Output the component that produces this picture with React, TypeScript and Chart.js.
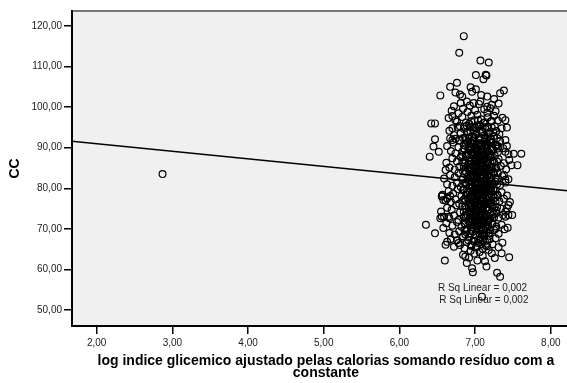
import { useEffect, useRef } from 'react';
import { Chart, registerables } from 'chart.js';
Chart.register(...registerables);

const xTicks = [2, 3, 4, 5, 6, 7, 8];
const yTicks = [50, 60, 70, 80, 90, 100, 110, 120];
const xRange = [1.674, 8.383];
const yRange = [46.06, 123.7];
const fitX = [1.5, 8.5];
const fitY = [91.9, 78.9];
const rSqLabels = ['R Sq Linear = 0,002', 'R Sq Linear = 0,002'];
const rSqX = [7.098, 7.115];
const rSqY = [55.35, 52.47];
const xTitle = ['log indice glicemico ajustado pelas calorias somando resíduo com a', 'constante'];
const yTitle = 'CC';

const outliers: number[][] = [
  [2.87, 83.5],
  [6.85, 117.5], [6.79, 113.4], [7.07, 111.5], [7.18, 111.0], [7.01, 107.9], [7.11, 106.9], [7.14, 108.0], [7.15, 107.8],
  [6.76, 106.0], [6.67, 105.0], [6.54, 102.9], [6.74, 103.6], [6.80, 103.1], [6.83, 102.6], [6.94, 104.9], [7.01, 104.4],
  [6.96, 103.8], [7.08, 103.0], [7.16, 102.6], [7.25, 102.0], [7.33, 103.4], [7.38, 104.1],
  [6.81, 101.0], [6.89, 101.4], [6.98, 101.0], [7.07, 101.4], [7.16, 100.1], [7.20, 99.7],
  [6.69, 99.1], [6.65, 97.3], [6.74, 96.8], [6.70, 94.8], [6.47, 96.0], [6.42, 96.0], [6.47, 92.1], [6.45, 90.3], [6.52, 89.0], [6.40, 87.8],
  [7.40, 96.8], [7.42, 95.0], [7.40, 91.9], [7.51, 88.5], [7.61, 88.5], [7.48, 85.7], [7.56, 85.7], [7.31, 90.3], [7.40, 89.0],
  [6.61, 84.5], [6.70, 91.9], [6.67, 92.3], [6.56, 78.1], [6.67, 78.1],
  [6.56, 78.0], [6.58, 77.1], [6.63, 77.5], [6.56, 73.0], [6.65, 73.0], [6.54, 72.6],
  [7.38, 83.3], [7.40, 82.1], [7.42, 75.1], [7.44, 73.4], [7.49, 73.4], [7.40, 73.0],
  [6.35, 71.0], [6.47, 68.9], [6.61, 66.1], [6.60, 62.2], [6.78, 66.5], [6.87, 63.2], [6.89, 61.6], [6.96, 60.3], [6.97, 59.3],
  [7.03, 62.2], [7.13, 62.0], [7.15, 60.7], [7.29, 59.2], [7.33, 58.2], [7.22, 64.0], [7.35, 64.0], [7.45, 63.0], [7.09, 53.3],
];

const upperCloud: number[][] = [
  [6.72, 100.2], [6.84, 99.6], [6.93, 100.4], [7.00, 99.2], [7.05, 100.8], [7.12, 99.5], [7.22, 100.6], [7.27, 99.0], [6.90, 98.8], [7.16, 98.6], [7.31, 100.9], [6.78, 98.5],
  [6.70, 97.8], [6.76, 96.4], [6.83, 97.6], [6.88, 96.2], [6.95, 97.9], [6.99, 96.8], [7.03, 98.1], [7.08, 97.0], [7.11, 96.1], [7.17, 97.5], [7.21, 96.5], [7.25, 97.9], [7.30, 96.7], [7.36, 97.4], [6.92, 95.9], [7.05, 95.6], [6.80, 95.3],
  [6.66, 94.2], [6.72, 93.1], [6.77, 95.0], [6.81, 93.6], [6.85, 94.7], [6.87, 92.5], [6.90, 93.9], [6.93, 95.1], [6.96, 92.8], [6.98, 94.3], [7.01, 93.2], [7.03, 95.4], [7.06, 92.4], [7.08, 94.0],
  [7.10, 95.2], [7.12, 93.0], [7.14, 94.6], [7.17, 92.6], [7.19, 93.8], [7.22, 95.0], [7.25, 92.9], [7.28, 94.1], [7.32, 93.3], [7.35, 94.8], [6.74, 92.2], [7.00, 94.9], [7.15, 92.1], [6.89, 95.4],
  [6.63, 90.4], [6.68, 89.2], [6.71, 91.3], [6.74, 88.6], [6.78, 90.1], [6.80, 91.8], [6.83, 89.0], [6.85, 90.7], [6.88, 88.3], [6.90, 91.4], [6.92, 89.6], [6.95, 90.9], [6.97, 88.8], [6.99, 91.7],
  [7.01, 90.0], [7.03, 88.5], [7.05, 91.1], [7.07, 89.4], [7.09, 90.6], [7.11, 88.2], [7.13, 91.5], [7.15, 89.8], [7.17, 90.8], [7.19, 88.7], [7.21, 91.2], [7.24, 89.5], [7.27, 90.5], [7.30, 88.9],
  [7.33, 91.6], [7.37, 89.9], [7.42, 90.4], [7.44, 88.4], [6.87, 91.9], [7.02, 89.2], [7.12, 90.3], [6.96, 89.9], [7.06, 88.1],
];

const coreCloud: number[][] = [
  [6.62, 86.3], [6.66, 85.1], [6.70, 87.4], [6.73, 84.6], [6.76, 86.6], [6.79, 85.3], [6.81, 87.7], [6.84, 84.2], [6.86, 86.1], [6.88, 87.9], [6.90, 85.0], [6.92, 86.9], [6.94, 84.5], [6.96, 87.3],
  [6.98, 85.6], [7.00, 86.7], [7.02, 84.3], [7.04, 87.6], [7.06, 85.4], [7.08, 86.4], [7.10, 84.8], [7.12, 87.1], [7.14, 85.7], [7.16, 86.8], [7.18, 84.4], [7.20, 87.5], [7.23, 85.2], [7.25, 86.5],
  [7.28, 84.9], [7.31, 87.2], [7.34, 85.5], [7.38, 86.2], [7.41, 84.7], [7.45, 87.0], [6.91, 86.0], [7.03, 85.9], [7.09, 87.8], [6.99, 84.1], [7.15, 84.0], [6.83, 86.4],
  [6.59, 82.4], [6.63, 81.0], [6.67, 83.3], [6.70, 80.6], [6.73, 82.7], [6.76, 81.3], [6.78, 83.8], [6.81, 80.3], [6.83, 82.1], [6.86, 83.5], [6.88, 80.9], [6.90, 82.9], [6.92, 81.5], [6.94, 83.2],
  [6.96, 80.4], [6.98, 82.3], [7.00, 81.1], [7.02, 83.7], [7.04, 80.7], [7.06, 82.6], [7.08, 81.7], [7.10, 83.4], [7.12, 80.2], [7.14, 82.0], [7.16, 83.1], [7.18, 81.2], [7.20, 82.8], [7.22, 80.5],
  [7.25, 83.6], [7.27, 81.6], [7.30, 82.5], [7.33, 80.8], [7.36, 83.0], [7.40, 81.4], [7.44, 82.2], [6.95, 81.9], [7.05, 83.9], [7.11, 81.8], [6.87, 81.4], [7.01, 80.1], [7.19, 80.0], [6.99, 83.0], [7.07, 80.0],
  [6.57, 78.4], [6.61, 77.0], [6.65, 79.3], [6.68, 76.6], [6.71, 78.7], [6.74, 77.3], [6.77, 79.8], [6.79, 76.2], [6.82, 78.1], [6.84, 79.5], [6.87, 76.9], [6.89, 78.9], [6.91, 77.5], [6.93, 79.2],
  [6.95, 76.4], [6.97, 78.3], [6.99, 77.1], [7.01, 79.7], [7.03, 76.7], [7.05, 78.6], [7.07, 77.7], [7.09, 79.4], [7.11, 76.3], [7.13, 78.0], [7.15, 79.1], [7.17, 77.2], [7.19, 78.8], [7.21, 76.5],
  [7.24, 79.6], [7.26, 77.6], [7.29, 78.5], [7.32, 76.8], [7.35, 79.0], [7.38, 77.4], [7.42, 78.2], [7.46, 76.6], [6.94, 77.9], [7.04, 79.9], [7.10, 77.8], [6.86, 77.4], [7.00, 76.0], [7.18, 76.1],
  [6.98, 79.0], [7.06, 76.1], [7.12, 79.6],
  [6.55, 74.3], [6.59, 73.0], [6.63, 75.2], [6.66, 72.6], [6.69, 74.7], [6.72, 73.3], [6.75, 75.8], [6.78, 72.2], [6.80, 74.1], [6.83, 75.5], [6.85, 72.9], [6.88, 74.9], [6.90, 73.5], [6.92, 75.3],
  [6.94, 72.4], [6.96, 74.3], [6.98, 73.1], [7.00, 75.7], [7.02, 72.7], [7.04, 74.6], [7.06, 73.7], [7.08, 75.4], [7.10, 72.3], [7.12, 74.0], [7.14, 75.1], [7.16, 73.2], [7.18, 74.8], [7.20, 72.5],
  [7.23, 75.6], [7.25, 73.6], [7.28, 74.5], [7.31, 72.8], [7.34, 75.0], [7.37, 73.4], [7.40, 74.2], [7.44, 75.9], [6.93, 73.9], [7.03, 75.9], [7.09, 73.8], [6.87, 73.4], [6.99, 72.0], [7.17, 72.1],
  [7.05, 72.0], [7.13, 76.0],
];

const lowerCloud: number[][] = [
  [6.58, 70.2], [6.62, 71.4], [6.66, 69.0], [6.70, 70.8], [6.73, 68.6], [6.76, 71.7], [6.79, 69.4], [6.82, 70.5], [6.84, 68.2], [6.87, 71.1], [6.89, 69.8], [6.91, 71.9], [6.93, 68.9], [6.95, 70.4],
  [6.97, 69.3], [6.99, 71.5], [7.01, 68.4], [7.03, 70.7], [7.05, 69.6], [7.07, 71.3], [7.09, 68.7], [7.11, 70.1], [7.13, 71.8], [7.15, 69.1], [7.17, 70.9], [7.19, 68.3], [7.22, 71.2], [7.25, 69.7],
  [7.28, 70.6], [7.31, 68.8], [7.35, 71.0], [7.39, 69.9], [7.43, 70.3], [6.96, 71.0], [7.08, 70.0], [7.02, 71.9], [6.86, 69.7], [7.12, 68.1],
  [6.63, 66.8], [6.68, 67.5], [6.72, 65.6], [6.76, 67.2], [6.80, 66.0], [6.83, 67.8], [6.86, 65.2], [6.89, 66.7], [6.92, 67.9], [6.95, 65.8], [6.98, 67.0], [7.01, 65.4], [7.04, 66.5], [7.07, 67.6],
  [7.10, 65.1], [7.13, 66.9], [7.16, 65.7], [7.19, 67.4], [7.23, 66.2], [7.27, 67.7], [7.31, 65.5], [7.36, 66.6], [6.94, 64.6], [7.06, 64.3], [7.18, 64.8],
  [6.84, 63.6], [6.99, 63.9], [7.10, 63.4], [7.26, 62.8], [6.92, 62.9],
];

const denseCore: number[][] = [
  [6.95, 96.5], [7.04, 96.8], [7.13, 96.3], [7.22, 96.6],
  [6.86, 95.2], [6.97, 95.0], [7.07, 95.4], [7.16, 95.1], [7.26, 95.3],
  [6.89, 93.8], [6.94, 94.0], [7.02, 93.6], [7.10, 93.9], [7.18, 93.5], [7.24, 93.8],
  [6.84, 92.4], [6.92, 92.2], [6.99, 92.6], [7.05, 92.3], [7.13, 92.5], [7.21, 92.1], [7.29, 92.4],
  [6.88, 91.0], [6.95, 91.2], [7.02, 90.8], [7.08, 91.1], [7.15, 90.9], [7.22, 91.3], [7.28, 90.7],
  [6.86, 89.6], [6.93, 89.4], [6.99, 89.8], [7.04, 89.5], [7.10, 89.7], [7.16, 89.3], [7.22, 89.6], [7.30, 89.8],
  [6.83, 88.2], [6.91, 88.4], [6.97, 88.0], [7.02, 88.3], [7.08, 88.1], [7.14, 88.5], [7.20, 88.2], [7.26, 88.0],
  [6.87, 86.8], [6.94, 86.6], [7.00, 87.0], [7.05, 86.7], [7.11, 86.9], [7.17, 86.5], [7.23, 86.8], [7.29, 86.6],
  [6.85, 85.4], [6.92, 85.2], [6.98, 85.6], [7.03, 85.3], [7.09, 85.5], [7.15, 85.1], [7.21, 85.4], [7.27, 85.2],
  [6.88, 84.0], [6.95, 84.2], [7.01, 83.8], [7.06, 84.1], [7.12, 83.9], [7.18, 84.3], [7.24, 84.0], [7.30, 83.7],
  [6.84, 82.6], [6.91, 82.4], [6.97, 82.8], [7.03, 82.5], [7.09, 82.7], [7.15, 82.3], [7.21, 82.6], [7.27, 82.4],
  [6.87, 81.2], [6.94, 81.0], [7.00, 81.4], [7.05, 81.1], [7.11, 81.3], [7.17, 80.9], [7.23, 81.2], [7.29, 81.0],
  [6.85, 79.8], [6.92, 80.0], [6.98, 79.6], [7.03, 79.9], [7.09, 79.7], [7.15, 80.1], [7.21, 79.8], [7.26, 79.5],
  [6.88, 78.4], [6.95, 78.2], [7.01, 78.6], [7.06, 78.3], [7.12, 78.5], [7.18, 78.1], [7.24, 78.4], [7.30, 78.2],
  [6.84, 77.0], [6.91, 77.2], [6.97, 76.8], [7.03, 77.1], [7.09, 76.9], [7.15, 77.3], [7.21, 77.0], [7.27, 76.7],
  [6.87, 75.6], [6.94, 75.4], [7.00, 75.8], [7.05, 75.5], [7.11, 75.7], [7.17, 75.3], [7.23, 75.6], [7.29, 75.4],
  [6.85, 74.2], [6.92, 74.4], [6.98, 74.0], [7.04, 74.3], [7.10, 74.1], [7.16, 74.5], [7.22, 74.2], [7.28, 73.9],
  [6.88, 72.8], [6.95, 72.6], [7.01, 73.0], [7.07, 72.7], [7.13, 72.9], [7.19, 72.5], [7.25, 72.8],
  [6.86, 71.4], [6.93, 71.6], [6.99, 71.2], [7.05, 71.5], [7.11, 71.3], [7.17, 71.7], [7.23, 71.4],
  [6.89, 70.0], [6.96, 69.8], [7.02, 70.2], [7.08, 69.9], [7.14, 70.1], [7.20, 69.7], [7.27, 70.0],
  [6.87, 68.6], [6.94, 68.8], [7.00, 68.4], [7.06, 68.7], [7.12, 68.5], [7.18, 68.9],
  [6.91, 67.2], [6.98, 67.0], [7.04, 67.4], [7.10, 67.1], [7.16, 67.3],
  [6.95, 66.0], [7.02, 65.8], [7.08, 66.2], [7.14, 65.9],
  [6.97, 91.7], [7.05, 91.9], [7.12, 91.6], [7.19, 91.8],
  [6.93, 90.3], [7.00, 90.5], [7.07, 90.2], [7.14, 90.4], [7.21, 90.1],
  [6.96, 88.9], [7.03, 89.1], [7.10, 88.8], [7.17, 89.0],
  [6.93, 87.5], [7.00, 87.3], [7.07, 87.6], [7.14, 87.4], [7.21, 87.7],
  [6.96, 86.1], [7.03, 86.3], [7.10, 86.0], [7.17, 86.2],
  [6.93, 84.7], [7.00, 84.9], [7.07, 84.6], [7.14, 84.8], [7.21, 84.5],
  [6.96, 83.3], [7.03, 83.1], [7.10, 83.4], [7.17, 83.2],
  [6.93, 81.9], [7.00, 82.1], [7.07, 81.8], [7.14, 82.0], [7.21, 81.7],
  [6.96, 80.5], [7.03, 80.7], [7.10, 80.4], [7.17, 80.6],
  [6.93, 79.1], [7.00, 78.9], [7.07, 79.2], [7.14, 79.0], [7.21, 79.3],
  [6.96, 77.7], [7.03, 77.9], [7.10, 77.6], [7.17, 77.8],
  [6.93, 76.3], [7.00, 76.5], [7.07, 76.2], [7.14, 76.4], [7.21, 76.1],
  [6.96, 74.9], [7.03, 74.7], [7.10, 75.0], [7.17, 74.8],
  [6.93, 73.5], [7.00, 73.7], [7.07, 73.4], [7.14, 73.6],
  [6.97, 72.1], [7.04, 72.3], [7.11, 72.0], [7.18, 72.2],
  [7.00, 70.7], [7.07, 70.9], [7.14, 70.6],
];

const FONT = "'Liberation Sans', Arial, Helvetica, sans-serif";
const toXY = (arr: number[][]) => arr.map(([x, y]) => ({ x, y }));

export default function App() {
  const ref = useRef<HTMLCanvasElement | null>(null);
  useEffect(() => {
    const canvas = ref.current;
    if (!canvas) return;
    const decor = {
      id: 'decor',
      beforeDraw(chart: any) {
        const { ctx, chartArea: a } = chart;
        ctx.save();
        ctx.fillStyle = '#f0f0f0';
        ctx.fillRect(a.left, a.top, a.right - a.left, a.bottom - a.top);
        ctx.strokeStyle = '#777777';
        ctx.lineWidth = 2;
        ctx.beginPath();
        ctx.moveTo(a.left, a.top);
        ctx.lineTo(a.right, a.top);
        ctx.stroke();
        ctx.restore();
      },
      afterDraw(chart: any) {
        const { ctx, chartArea: a, scales } = chart;
        ctx.save();
        ctx.fillStyle = '#222';
        ctx.font = `10px ${FONT}`;
        ctx.textAlign = 'center';
        ctx.textBaseline = 'middle';
        rSqLabels.forEach((t, i) => {
          ctx.fillText(t, scales.x.getPixelForValue(rSqX[i]), scales.y.getPixelForValue(rSqY[i]));
        });
        ctx.fillStyle = '#000';
        ctx.font = `bold 14px ${FONT}`;
        const cx = (a.left + a.right) / 2;
        ctx.fillText(xTitle[0], cx, a.bottom + 35);
        ctx.fillText(xTitle[1], cx, a.bottom + 47);
        ctx.translate(15.5, (a.top + a.bottom) / 2);
        ctx.rotate(-Math.PI / 2);
        ctx.fillText(yTitle, 0, 0);
        ctx.restore();
      },
    };
    const pointDs = (data: number[][]) => ({
      type: 'scatter' as const,
      data: toXY(data),
      pointStyle: 'circle',
      pointRadius: 3.4,
      pointBorderWidth: 1.2,
      pointBorderColor: '#000',
      pointBackgroundColor: 'rgba(0,0,0,0)',
      showLine: false,
    });
    const chart = new Chart(canvas, {
      type: 'scatter',
      data: {
        datasets: [
          pointDs(outliers),
          pointDs(upperCloud),
          pointDs(coreCloud),
          pointDs(lowerCloud),
          pointDs(denseCore),
          {
            type: 'line' as const,
            data: fitX.map((x, i) => ({ x, y: fitY[i] })),
            borderColor: '#000',
            borderWidth: 1.5,
            pointRadius: 0,
            fill: false,
          } as any,
        ],
      },
      options: {
        animation: false,
        responsive: false,
        devicePixelRatio: 1,
        events: [],
        layout: { padding: { top: 11, left: 0, right: 0, bottom: 0 } },
        plugins: { legend: { display: false }, tooltip: { enabled: false } },
        scales: {
          x: {
            type: 'linear',
            min: xRange[0],
            max: xRange[1],
            afterBuildTicks: (s: any) => { s.ticks = xTicks.map((v) => ({ value: v })); },
            afterFit: (s: any) => { s.height = 57; },
            ticks: {
              color: '#222',
              font: { family: FONT, size: 10 },
              padding: 3,
              maxRotation: 0,
              autoSkip: false,
              callback: (v: any) => Number(v).toFixed(2).replace('.', ','),
            },
            grid: { drawOnChartArea: false, drawTicks: true, tickLength: 8, color: '#000', lineWidth: 1.5 },
            border: { display: true, color: '#000', width: 2 },
          },
          y: {
            type: 'linear',
            min: yRange[0],
            max: yRange[1],
            afterBuildTicks: (s: any) => { s.ticks = yTicks.map((v) => ({ value: v })); },
            afterFit: (s: any) => { s.width = 72; },
            ticks: {
              color: '#222',
              font: { family: FONT, size: 10 },
              padding: 2,
              autoSkip: false,
              callback: (v: any) => Number(v).toFixed(2).replace('.', ','),
            },
            grid: { drawOnChartArea: false, drawTicks: true, tickLength: 8, color: '#000', lineWidth: 1.5 },
            border: { display: true, color: '#000', width: 2 },
          },
        },
      } as any,
      plugins: [decor],
    });
    return () => chart.destroy();
  }, []);
  return (
    <div style={{ position: 'absolute', left: 0, top: 0, width: 567, height: 383, overflow: 'hidden', background: '#fff' }}>
      <canvas ref={ref} width={585} height={383} style={{ width: 585, height: 383, display: 'block' }} />
    </div>
  );
}
